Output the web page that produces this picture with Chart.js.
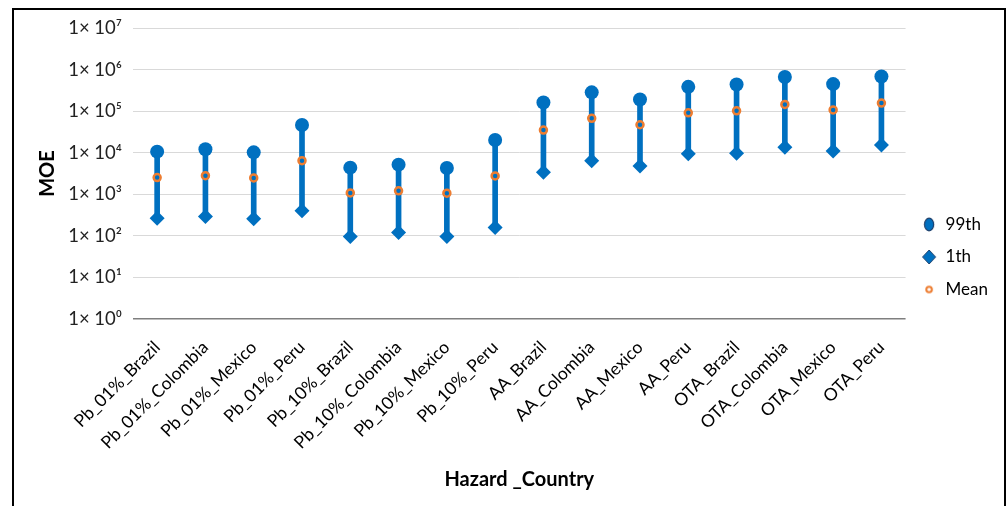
<!DOCTYPE html>
<html>
<head>
<meta charset="utf-8">
<script src="https://cdn.jsdelivr.net/npm/chart.js@4"></script>
<style>
  html, body { margin: 0; padding: 0; background: #fff; }
  #c { display: block; }
</style>
</head>
<body>
<canvas id="c" width="1006" height="506"></canvas>
<script>
// Hazard / country combinations on the category axis
const categories = [
  'Pb_01%_Brazil', 'Pb_01%_Colombia', 'Pb_01%_Mexico', 'Pb_01%_Peru',
  'Pb_10%_Brazil', 'Pb_10%_Colombia', 'Pb_10%_Mexico', 'Pb_10%_Peru',
  'AA_Brazil', 'AA_Colombia', 'AA_Mexico', 'AA_Peru',
  'OTA_Brazil', 'OTA_Colombia', 'OTA_Mexico', 'OTA_Peru'
];

// MOE percentiles and mean for each combination
const p99 = [10600, 12100, 10200, 46300, 4370, 5160, 4300, 20200,
             162000, 283000, 191000, 384000, 438000, 660000, 447000, 683000];
const p1 = [267, 292, 257, 399, 97, 121, 97, 158,
            3390, 6430, 4800, 9480, 9670, 13500, 11000, 15300];
const means = [2520, 2810, 2470, 6440, 1080, 1210, 1060, 2760,
               35100, 67000, 47100, 91000, 102000, 145000, 107000, 156000];

// Decade ticks of the logarithmic axis
const tickValues = [1, 10, 100, 1000, 10000, 100000, 1000000, 10000000];
const tickLabels = ['1× 10⁰', '1× 10¹', '1× 10²', '1× 10³', '1× 10⁴', '1× 10⁵', '1× 10⁶', '1× 10⁷'];

const BLUE = '#0070C0';
const ORANGE = '#ED7D31';
const FONT = 'Lato, "Open Sans", sans-serif';

// Small marker images for the legend
function marker(w, h, draw) {
  const cv = document.createElement('canvas');
  cv.width = w; cv.height = h;
  draw(cv.getContext('2d'), w, h);
  return cv;
}
const legendMarks = {
  1: marker(12, 15, (g, w, h) => {
    g.beginPath(); g.ellipse(w / 2, h / 2, 4.6, 6.3, 0, 0, Math.PI * 2);
    g.fillStyle = BLUE; g.fill(); g.lineWidth = 1.2; g.strokeStyle = '#1d3f6b'; g.stroke();
  }),
  2: marker(16, 16, (g, w, h) => {
    g.beginPath(); g.moveTo(w / 2, 1); g.lineTo(w - 1.5, h / 2); g.lineTo(w / 2, h - 1); g.lineTo(1.5, h / 2); g.closePath();
    g.fillStyle = BLUE; g.fill(); g.lineWidth = 1; g.strokeStyle = '#1d3f6b'; g.stroke();
  }),
  3: marker(10, 10, (g, w, h) => {
    g.beginPath(); g.arc(w / 2, h / 2, 2.8, 0, Math.PI * 2);
    g.fillStyle = '#fff'; g.fill(); g.lineWidth = 2; g.strokeStyle = ORANGE; g.stroke();
  })
};

// Page background and outer frame
const framePlugin = {
  id: 'frame',
  beforeDraw(chart) {
    const g = chart.ctx;
    g.save();
    g.fillStyle = '#fff';
    g.fillRect(0, 0, chart.width, chart.height);
    g.lineWidth = 2;
    g.strokeStyle = '#000';
    g.strokeRect(13, 9, 992, 600);
    g.restore();
  }
};

new Chart(document.getElementById('c'), {
  type: 'bar',
  data: {
    labels: categories,
    datasets: [
      {
        label: 'range',
        data: p1.map((lo, i) => [lo, p99[i]]),
        backgroundColor: BLUE,
        borderWidth: 0,
        barThickness: 5,
        order: 4
      },
      {
        type: 'line', label: '99th', data: p99, showLine: false,
        pointStyle: 'circle', pointRadius: 7, pointBackgroundColor: BLUE,
        pointBorderColor: BLUE, pointBorderWidth: 0, order: 2
      },
      {
        type: 'line', label: '1th', data: p1, showLine: false,
        pointStyle: 'rectRot', pointRadius: 7.5, pointBackgroundColor: BLUE,
        pointBorderColor: BLUE, pointBorderWidth: 0, order: 3
      },
      {
        type: 'line', label: 'Mean', data: means, showLine: false,
        pointStyle: 'circle', pointRadius: 3.5, pointBackgroundColor: BLUE,
        pointBorderColor: ORANGE, pointBorderWidth: 2.5, order: 1
      }
    ]
  },
  options: {
    responsive: false,
    animation: false,
    events: [],
    layout: { padding: { top: 28, left: 0, right: 8, bottom: 20 } },
    scales: {
      x: {
        grid: { display: false },
        border: { display: false },
        afterFit(s) { s.height = 167; },
        ticks: {
          autoSkip: false, minRotation: 45, maxRotation: 45, padding: 10,
          color: '#000', font: { family: FONT, size: 17.5 }
        },
        title: {
          display: true, text: 'Hazard _Country', color: '#000',
          font: { family: FONT, size: 20, weight: 'bold' },
          padding: { top: 0, bottom: -6 }
        }
      },
      y: {
        type: 'logarithmic',
        min: 1, max: 10000000,
        afterBuildTicks(s) { s.ticks = tickValues.map(v => ({ value: v })); },
        afterFit(s) { s.width = 133; },
        border: { display: false },
        grid: {
          drawTicks: false,
          lineWidth: ctx => (ctx.tick && ctx.tick.value === 1 ? 1.5 : 1),
          color: ctx => (ctx.tick && ctx.tick.value === 1 ? '#7f7f7f' : '#d9d9d9')
        },
        ticks: {
          autoSkip: false, padding: 11, color: '#222',
          font: { family: FONT, size: 18.5 },
          callback: (v, i) => tickLabels[i]
        },
        title: {
          display: true, text: 'MOE', color: '#000',
          font: { family: FONT, size: 20, weight: 'bold' },
          padding: { top: 36, bottom: 0 }
        }
      }
    },
    plugins: {
      tooltip: { enabled: false },
      legend: {
        position: 'right',
        labels: {
          usePointStyle: true,
          pointStyleWidth: 16,
          padding: 15.5,
          color: '#000',
          font: { family: FONT, size: 17 },
          filter: item => item.datasetIndex > 0,
          sort: (a, b) => a.datasetIndex - b.datasetIndex,
          generateLabels(chart) {
            const items = Chart.defaults.plugins.legend.labels.generateLabels(chart);
            items.forEach(it => { if (legendMarks[it.datasetIndex]) it.pointStyle = legendMarks[it.datasetIndex]; });
            return items;
          }
        }
      }
    }
  },
  plugins: [framePlugin]
});
</script>
</body>
</html>
